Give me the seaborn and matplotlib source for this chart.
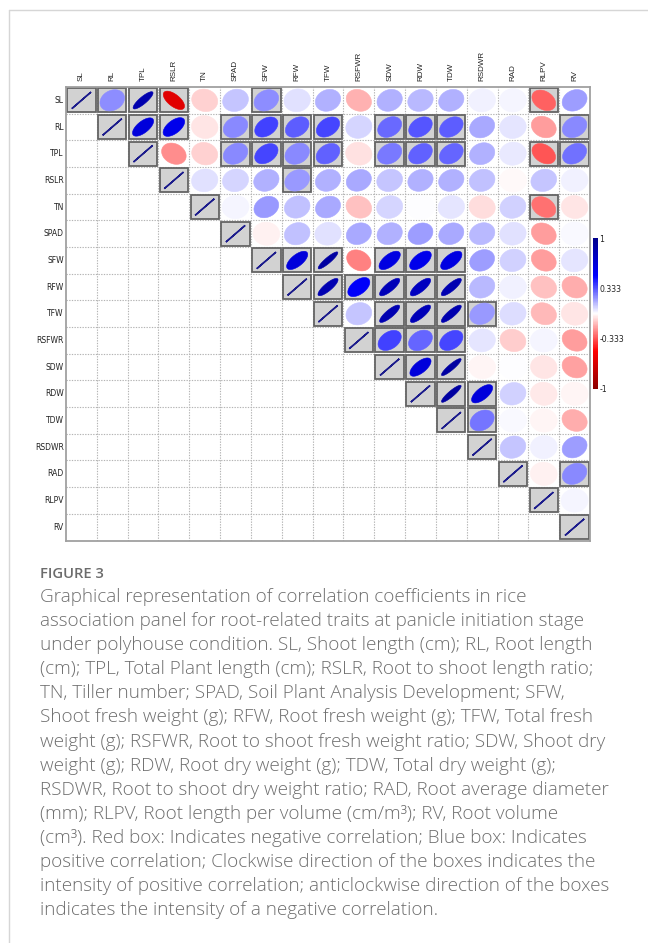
import numpy as np
import pandas as pd
import matplotlib
matplotlib.use("Agg")
import matplotlib.pyplot as plt
import seaborn as sns
from matplotlib.colors import LinearSegmentedColormap
from matplotlib.patches import Polygon, Rectangle
from matplotlib.lines import Line2D

# ---------------------------------------------------------------- data
traits = ["SL", "RL", "TPL", "RSLR", "TN", "SPAD", "SFW", "RFW", "TFW",
          "RSFWR", "SDW", "RDW", "TDW", "RSDWR", "RAD", "RLPV", "RV"]

# upper triangle, row by row (columns to the right of the diagonal)
r_SL = [0.22, 0.85, -0.63, -0.09, 0.11, 0.22, 0.06, 0.15, -0.15, 0.15, 0.14, 0.15, 0.03, 0.02, -0.31, 0.19]
r_RL = [0.65, 0.58, -0.05, 0.23, 0.37, 0.32, 0.36, 0.08, 0.29, 0.33, 0.32, 0.17, 0.05, -0.19, 0.23]
r_TPL = [-0.22, -0.09, 0.23, 0.36, 0.23, 0.31, -0.06, 0.26, 0.31, 0.30, 0.15, 0.04, -0.33, 0.28]
r_RSLR = [0.06, 0.08, 0.15, 0.20, 0.15, 0.17, 0.11, 0.15, 0.15, 0.12, -0.01, 0.11, 0.03]
r_TN = [0.02, 0.20, 0.12, 0.17, -0.12, 0.08, 0.0, 0.05, -0.07, 0.09, -0.28, -0.05]
r_SPAD = [-0.03, 0.12, 0.06, 0.17, 0.15, 0.19, 0.17, 0.14, 0.06, -0.19, 0.01]
r_SFW = [0.65, 0.90, -0.25, 0.63, 0.58, 0.63, 0.19, 0.09, -0.19, 0.05]
r_RFW = [0.83, 0.52, 0.80, 0.77, 0.83, 0.14, 0.03, -0.12, -0.16]
r_TFW = [0.11, 0.83, 0.80, 0.85, 0.20, 0.07, -0.14, -0.05]
r_RSFWR = [0.37, 0.30, 0.36, 0.05, -0.10, 0.02, -0.19]
r_SDW = [0.65, 0.90, -0.02, 0.0, -0.05, -0.18]
r_RDW = [0.90, 0.65, 0.09, -0.04, -0.02]
r_TDW = [0.27, 0.015, -0.02, -0.16]
r_RSDWR = [0.11, 0.03, 0.19]
r_RAD = [-0.03, 0.23]
r_RLPV = [0.02]

# significant pairs (boxed cells), same layout as above
s_SL = [1, 1, 1, 0, 0, 1, 0, 0, 0, 0, 0, 0, 0, 0, 1, 0]
s_RL = [1, 1, 0, 1, 1, 1, 1, 0, 1, 1, 1, 0, 0, 0, 1]
s_TPL = [0, 0, 1, 1, 1, 1, 0, 1, 1, 1, 0, 0, 1, 1]
s_RSLR = [0, 0, 0, 1, 0, 0, 0, 0, 0, 0, 0, 0, 0]
s_TN = [0, 0, 0, 0, 0, 0, 0, 0, 0, 0, 1, 0]
s_SPAD = [0, 0, 0, 0, 0, 0, 0, 0, 0, 0, 0]
s_SFW = [1, 1, 0, 1, 1, 1, 0, 0, 0, 0]
s_RFW = [1, 1, 1, 1, 1, 0, 0, 0, 0]
s_TFW = [0, 1, 1, 1, 1, 0, 0, 0]
s_RSFWR = [1, 1, 1, 0, 0, 0, 0]
s_SDW = [1, 1, 0, 0, 0, 0]
s_RDW = [1, 1, 0, 0, 0]
s_TDW = [1, 0, 0, 0]
s_RSDWR = [0, 0, 0]
s_RAD = [0, 1]
s_RLPV = [0]

r_rows = [r_SL, r_RL, r_TPL, r_RSLR, r_TN, r_SPAD, r_SFW, r_RFW, r_TFW,
          r_RSFWR, r_SDW, r_RDW, r_TDW, r_RSDWR, r_RAD, r_RLPV]
s_rows = [s_SL, s_RL, s_TPL, s_RSLR, s_TN, s_SPAD, s_SFW, s_RFW, s_TFW,
          s_RSFWR, s_SDW, s_RDW, s_TDW, s_RSDWR, s_RAD, s_RLPV]

cbar_ticks = [1, 0.333, -0.333, -1]
cbar_labels = ["1", "0.333", "-0.333", "-1"]

caption_head = "FIGURE 3"
caption_lines = [
    "Graphical representation of correlation coefficients in rice",
    "association panel for root-related traits at panicle initiation stage",
    "under polyhouse condition. SL, Shoot length (cm); RL, Root length",
    "(cm); TPL, Total Plant length (cm); RSLR, Root to shoot length ratio;",
    "TN, Tiller number; SPAD, Soil Plant Analysis Development; SFW,",
    "Shoot fresh weight (g); RFW, Root fresh weight (g); TFW, Total fresh",
    "weight (g); RSFWR, Root to shoot fresh weight ratio; SDW, Shoot dry",
    "weight (g); RDW, Root dry weight (g); TDW, Total dry weight (g);",
    "RSDWR, Root to shoot dry weight ratio; RAD, Root average diameter",
    "(mm); RLPV, Root length per volume (cm/m³); RV, Root volume",
    "(cm³). Red box: Indicates negative correlation; Blue box: Indicates",
    "positive correlation; Clockwise direction of the boxes indicates the",
    "intensity of positive correlation; anticlockwise direction of the boxes",
    "indicates the intensity of a negative correlation.",
]

# ---------------------------------------------------------------- matrix
n = len(traits)
corr = np.eye(n)
sig = np.eye(n, dtype=bool)
for i, (vals, flags) in enumerate(zip(r_rows, s_rows)):
    for k, (v, f) in enumerate(zip(vals, flags)):
        j = i + 1 + k
        corr[i, j] = corr[j, i] = v
        sig[i, j] = sig[j, i] = bool(f)
corr_df = pd.DataFrame(corr, index=traits, columns=traits)

# ---------------------------------------------------------------- figure
W, H = 648, 943
sns.set_theme(style="white")
plt.rcParams["font.family"] = ["Liberation Sans Narrow", "DejaVu Sans"]

fig = plt.figure(figsize=(W / 100, H / 100), dpi=100)
fig.patch.set_facecolor("white")

ax = fig.add_axes([66 / W, 1 - 540.5 / H, 524 / W, 453.5 / H])
cax = fig.add_axes([593 / W, 1 - 389 / H, 5 / W, 151 / H])

cmap = LinearSegmentedColormap.from_list(
    "red_white_blue", ["#8B0000", "#FF0000", "#FFFFFF", "#0000FF", "#00008B"])
norm = plt.Normalize(-1, 1)

# empty heatmap frame: provides the cell grid, labels and colour bar
sns.heatmap(corr_df, mask=np.ones_like(corr, dtype=bool), cmap=cmap,
            vmin=-1, vmax=1, ax=ax, cbar_ax=cax, square=False,
            xticklabels=True, yticklabels=True)

# dotted cell grid
for k in range(1, n):
    ax.axhline(k, color="#b4b4b4", lw=0.8, ls=(0, (1.2, 1.2)), zorder=1)
    ax.axvline(k, color="#b4b4b4", lw=0.8, ls=(0, (1.2, 1.2)), zorder=1)
for side in ["left", "right", "top", "bottom"]:
    ax.spines[side].set_visible(True)
    ax.spines[side].set_color("#a0a0a0")
    ax.spines[side].set_linewidth(1.3)

# ellipses (upper triangle incl. diagonal)
t = np.linspace(0, 2 * np.pi, 120)
A = 0.44
for i in range(n):
    for j in range(i, n):
        r = corr[i, j]
        cx, cy = j + 0.5, i + 0.5
        if sig[i, j]:
            ax.add_patch(Rectangle((j + 0.04, i + 0.05), 0.92, 0.90,
                                   facecolor="#d2d2d2", edgecolor="#646464",
                                   lw=1.3, zorder=2))
        b = A * np.sqrt(max(1 - abs(r), 0) / (1 + abs(r)))
        phi = np.pi / 4 if r >= 0 else -np.pi / 4
        u, v = A * np.cos(t), b * np.sin(t)
        xs = cx + u * np.cos(phi) - v * np.sin(phi)
        ys = cy - (u * np.sin(phi) + v * np.cos(phi))
        col = cmap(norm(r))
        if i == j:
            col = "#1c1c8c"
            ax.add_patch(Polygon(np.column_stack([xs, ys]), closed=True,
                                 facecolor=col, edgecolor=col, lw=1.1, zorder=3))
        else:
            ax.add_patch(Polygon(np.column_stack([xs, ys]), closed=True,
                                 facecolor=col, edgecolor=col, lw=0.4, zorder=3))

# axis labels
ax.xaxis.tick_top()
ax.set_xticklabels(traits, rotation=90, fontsize=5.8, color="#222222",
                   family=["Liberation Sans", "DejaVu Sans"])
ax.set_yticklabels(traits, rotation=0, fontsize=5.5, color="#222222")
ax.tick_params(axis="x", length=0, pad=4)
ax.tick_params(axis="y", length=0, pad=1.5)
ax.set_xlabel("")
ax.set_ylabel("")

# colour bar
cbar = ax.collections[0].colorbar
cbar.set_ticks(cbar_ticks)
cbar.set_ticklabels(cbar_labels)
cbar.outline.set_visible(False)
cax.tick_params(length=0, pad=1, labelsize=5.6, colors="#222222")

# page frame lines
fig.add_artist(Line2D([9 / W, 9 / W], [0, 1 - 10 / H], color="#d6d6d6", lw=1.0))
fig.add_artist(Line2D([9 / W, 1], [1 - 10 / H, 1 - 10 / H], color="#d6d6d6", lw=1.0))

# caption
fig.text(40 / W, 1 - 574 / H, caption_head, fontsize=10.6, color="#6c6c6c",
         family=["Open Sans", "DejaVu Sans"], fontweight="semibold", va="center")
for k, line in enumerate(caption_lines):
    fig.text(40 / W, 1 - (597 + 24.1 * k) / H, line, fontsize=13.6,
             color="#6e6e6e", family=["Open Sans", "DejaVu Sans"],
             fontweight="light", va="center")

fig.savefig("out.png", dpi=100, facecolor="white")
